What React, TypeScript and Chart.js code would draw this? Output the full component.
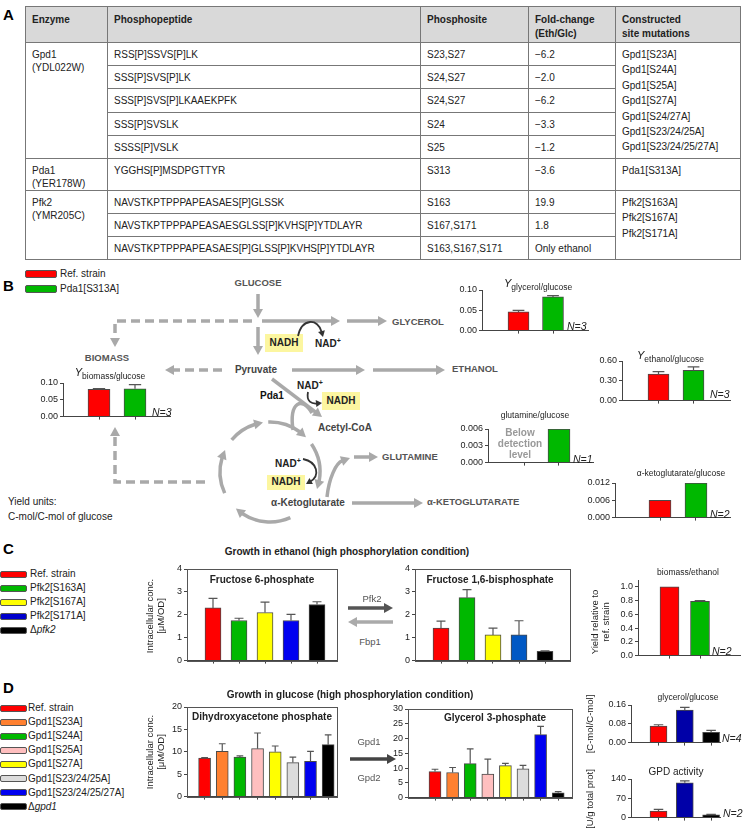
import React, { useEffect, useRef } from 'react';
import { Chart, registerables } from 'chart.js';
Chart.register(...registerables);

const FONT = '"Liberation Sans", Arial, Helvetica, sans-serif';

// ---------- Table data (panel A) ----------
const tableHeader = [['Enzyme'], ['Phosphopeptide'], ['Phosphosite'], ['Fold-change', '(Eth/Glc)'], ['Constructed', 'site mutations']];
const gpd1Name = ['Gpd1', '(YDL022W)'];
const gpd1Peptides = ['RSS[P]SSVS[P]LK', 'SSS[P]SVS[P]LK', 'SSS[P]SVS[P]LKAAEKPFK', 'SSS[P]SVSLK', 'SSSS[P]VSLK'];
const gpd1Sites = ['S23,S27', 'S24,S27', 'S24,S27', 'S24', 'S25'];
const gpd1Fold = ['−6.2', '−2.0', '−6.2', '−3.3', '−1.2'];
const gpd1Mutations = ['Gpd1[S23A]', 'Gpd1[S24A]', 'Gpd1[S25A]', 'Gpd1[S27A]', 'Gpd1[S24/27A]', 'Gpd1[S23/24/25A]', 'Gpd1[S23/24/25/27A]'];
const pda1Name = ['Pda1', '(YER178W)'];
const pda1Peptides = ['YGGHS[P]MSDPGTTYR'];
const pda1Sites = ['S313'];
const pda1Fold = ['−3.6'];
const pda1Mutations = ['Pda1[S313A]'];
const pfk2Name = ['Pfk2', '(YMR205C)'];
const pfk2Peptides = ['NAVSTKPTPPPAPEASAES[P]GLSSK', 'NAVSTKPTPPPAPEASAESGLSS[P]KVHS[P]YTDLAYR', 'NAVSTKPTPPPAPEASAES[P]GLSS[P]KVHS[P]YTDLAYR'];
const pfk2Sites = ['S163', 'S167,S171', 'S163,S167,S171'];
const pfk2Fold = ['19.9', '1.8', 'Only ethanol'];
const pfk2Mutations = ['Pfk2[S163A]', 'Pfk2[S167A]', 'Pfk2[S171A]'];

// ---------- Panel B data ----------
const bStrains = ['Ref. strain', 'Pda1[S313A]'];
const bColors = ['#ff0000', '#00b800'];
const biomassYield = [0.081, 0.083];
const biomassErr = [0.002, 0.012];
const glycerolYield = [0.046, 0.083];
const glycerolErr = [0.004, 0.003];
const ethanolYield = [0.40, 0.46];
const ethanolErr = [0.04, 0.05];
const glutamineYield = [null, 0.006];
const akgYield = [0.006, 0.012];
const ticksBiomass = [0, 0.05, 0.10];
const ticksGlycerol = [0, 0.05, 0.10];
const ticksEthanol = [0, 0.30, 0.60];
const ticksGlutamine = [0, 0.003, 0.006];
const ticksAkg = [0, 0.006, 0.012];

// ---------- Panel C data ----------
const cStrains = ['Ref. strain', 'Pfk2[S163A]', 'Pfk2[S167A]', 'Pfk2[S171A]', 'Δpfk2'];
const cLegendColors = ['#ff0000', '#00b800', '#ffff00', '#0000cc', '#000000'];
const cColors = ['#ff0000', '#00b800', '#ffff00', '#0000f0', '#000000'];
const cColorsF16 = ['#ff0000', '#00b800', '#ffff00', '#0058c4', '#000000'];
const f6p = [2.3, 1.75, 2.1, 1.75, 2.45];
const f6pErr = [0.42, 0.1, 0.45, 0.27, 0.12];
const f16bp = [1.42, 2.75, 1.12, 1.12, 0.4];
const f16bpErr = [0.3, 0.35, 0.3, 0.62, 0.03];
const biomassEthanol = [1.0, 0.79];
const biomassEthanolErr = [0, 0.012];
const ticksConc4 = [0, 1, 2, 3, 4];
const ticksRel = [0, 0.2, 0.4, 0.6, 0.8, 1.0];

// ---------- Panel D data ----------
const dStrains = ['Ref. strain', 'Gpd1[S23A]', 'Gpd1[S24A]', 'Gpd1[S25A]', 'Gpd1[S27A]', 'Gpd1[S23/24/25A]', 'Gpd1[S23/24/25/27A]', 'Δgpd1'];
const dColors = ['#ff0000', '#ff8030', '#00b800', '#ffbfbf', '#ffff00', '#dcdcdc', '#0000f0', '#000000'];
const dhap = [8.6, 10.1, 8.8, 10.7, 10.0, 7.6, 7.9, 11.6];
const dhapErr = [0.1, 1.7, 0.3, 3.5, 1.3, 1.2, 2.2, 2.2];
const g3p = [8.8, 8.5, 11.5, 8.0, 10.8, 9.7, 21.3, 1.6];
const g3pErr = [0.8, 1.7, 5.0, 5.0, 0.8, 1.2, 2.8, 0.4];
const dRightColors = ['#ff0000', '#0000a8', '#000000'];
const glycerolGlucose = [0.07, 0.138, 0.044];
const glycerolGlucoseErr = [0.006, 0.012, 0.008];
const gpdActivity = [24, 126, 10];
const gpdActivityErr = [6, 7, 2];
const ticksDhap = [0, 5, 10, 15, 20];
const ticksG3p = [0, 5, 10, 15, 20, 25, 30];
const ticksGlyGlu = [0, 0.08, 0.16];
const ticksGpd = [0, 70, 140];

// ---------- chart component ----------
type Spec = {
  left: number; top: number; width: number; height: number;
  yMax: number; yTicks: number[]; dec: number;
  first: number; step: number; barW: number;
  values: (number | null)[]; errs?: number[]; colors: string[]; box?: boolean;
};
const YW = 32, PT = 8, PR = 3, XH = 6;

function BarChart({ s }: { s: Spec }) {
  const ref = useRef<HTMLCanvasElement>(null);
  useEffect(() => {
    const xs = s.values.map((_, i) => i + 1);
    const xMin = 1 - s.first / s.step;
    const xMax = xMin + s.width / s.step;
    const errPlugin = {
      id: 'errbars',
      afterDatasetsDraw(chart: any) {
        if (!s.errs) return;
        const meta = chart.getDatasetMeta(0);
        const ys = chart.scales.y;
        const ctx = chart.ctx;
        ctx.save();
        ctx.strokeStyle = '#555';
        ctx.lineWidth = 1.2;
        meta.data.forEach((el: any, i: number) => {
          const v = s.values[i];
          const e = s.errs![i];
          if (v == null || !e) return;
          const yTop = ys.getPixelForValue(v + e);
          const cw = Math.max(3, s.barW * 0.28);
          ctx.beginPath();
          ctx.moveTo(el.x, el.y);
          ctx.lineTo(el.x, yTop);
          ctx.moveTo(el.x - cw, yTop);
          ctx.lineTo(el.x + cw, yTop);
          ctx.stroke();
        });
        ctx.restore();
      },
    };
    const framePlugin = {
      id: 'frame',
      afterDraw(chart: any) {
        if (!s.box) return;
        const a = chart.chartArea;
        const ctx = chart.ctx;
        ctx.save();
        ctx.strokeStyle = '#555';
        ctx.lineWidth = 1;
        ctx.strokeRect(Math.round(a.left) + 0.5, Math.round(a.top) + 0.5, Math.round(a.right - a.left), Math.round(a.bottom - a.top));
        ctx.restore();
      },
    };
    const chart = new Chart(ref.current!, {
      type: 'bar',
      data: {
        datasets: [{
          data: xs.map((x, i) => ({ x, y: s.values[i] })) as any,
          backgroundColor: s.colors,
          borderColor: '#4a4a4a',
          borderWidth: 1,
          barThickness: s.barW,
        }],
      },
      options: {
        animation: false,
        responsive: false,
        maintainAspectRatio: false,
        layout: { padding: { top: PT, right: PR, left: 0, bottom: 0 } },
        plugins: { legend: { display: false }, tooltip: { enabled: false } },
        scales: {
          x: {
            type: 'linear', min: xMin, max: xMax, offset: false,
            afterBuildTicks: (sc: any) => { sc.ticks = xs.map((v) => ({ value: v })); },
            afterFit: (sc: any) => { sc.height = XH; },
            ticks: { display: false },
            grid: { drawOnChartArea: false, drawTicks: true, tickLength: 3, color: '#444', offset: false },
            border: { color: '#444', width: 1 },
          },
          y: {
            min: 0, max: s.yMax,
            afterBuildTicks: (sc: any) => { sc.ticks = s.yTicks.map((v) => ({ value: v })); },
            afterFit: (sc: any) => { sc.width = YW; },
            ticks: {
              autoSkip: false, padding: 2, color: '#222',
              font: { family: FONT, size: 9 },
              callback: (v: any) => Number(v).toFixed(s.dec),
            },
            grid: { drawOnChartArea: false, drawTicks: true, tickLength: 3, color: '#444' },
            border: { color: '#444', width: 1 },
          },
        },
      } as any,
      plugins: [errPlugin, framePlugin],
    });
    return () => chart.destroy();
  }, []);
  const w = YW + s.width + PR;
  const h = PT + s.height + XH;
  return (
    <canvas ref={ref} width={w} height={h}
      style={{ position: 'absolute', left: s.left - YW, top: s.top - PT, width: w, height: h }} />
  );
}

const specs: Record<string, Spec> = {
  biomass: { left: 63, top: 383, width: 107, height: 35, yMax: 0.1, yTicks: ticksBiomass, dec: 2, first: 36, step: 36, barW: 22, values: biomassYield, errs: biomassErr, colors: bColors },
  glycerol: { left: 482, top: 290, width: 106, height: 42, yMax: 0.1, yTicks: ticksGlycerol, dec: 2, first: 36.5, step: 34.5, barW: 21, values: glycerolYield, errs: glycerolErr, colors: bColors },
  ethanol: { left: 622, top: 361, width: 108, height: 41, yMax: 0.6, yTicks: ticksEthanol, dec: 2, first: 36.5, step: 35, barW: 21, values: ethanolYield, errs: ethanolErr, colors: bColors },
  glutamine: { left: 488, top: 429, width: 105, height: 35, yMax: 0.006, yTicks: ticksGlutamine, dec: 3, first: 36, step: 35, barW: 22, values: glutamineYield, colors: bColors },
  akg: { left: 615, top: 483, width: 115, height: 36, yMax: 0.012, yTicks: ticksAkg, dec: 3, first: 45, step: 36, barW: 22, values: akgYield, colors: bColors },
  f6p: { left: 187, top: 569, width: 150, height: 93, yMax: 4, yTicks: ticksConc4, dec: 0, first: 26, step: 26, barW: 16, values: f6p, errs: f6pErr, colors: cColors, box: true },
  f16bp: { left: 415, top: 569, width: 155, height: 93, yMax: 4, yTicks: ticksConc4, dec: 0, first: 26, step: 26, barW: 16, values: f16bp, errs: f16bpErr, colors: cColorsF16, box: true },
  bioEth: { left: 638, top: 580, width: 102, height: 77, yMax: 1.1, yTicks: ticksRel, dec: 1, first: 31.5, step: 30.5, barW: 19, values: biomassEthanol, errs: biomassEthanolErr, colors: bColors },
  dhap: { left: 187, top: 707, width: 150, height: 91, yMax: 20, yTicks: ticksDhap, dec: 0, first: 17.6, step: 17.65, barW: 12, values: dhap, errs: dhapErr, colors: dColors, box: true },
  g3p: { left: 408, top: 709, width: 164, height: 90, yMax: 30, yTicks: ticksG3p, dec: 0, first: 27, step: 17.6, barW: 12, values: g3p, errs: g3pErr, colors: dColors, box: true },
  glyGlu: { left: 631, top: 705, width: 89, height: 39, yMax: 0.16, yTicks: ticksGlyGlu, dec: 2, first: 27.5, step: 26.3, barW: 17, values: glycerolGlucose, errs: glycerolGlucoseErr, colors: dRightColors },
  gpd: { left: 631, top: 779, width: 89, height: 40, yMax: 140, yTicks: ticksGpd, dec: 0, first: 27.5, step: 26.3, barW: 17, values: gpdActivity, errs: gpdActivityErr, colors: dRightColors },
};

// ---------- text helpers ----------
function Txt({ x, y, c, a = 'l', s = 10, b = false, i = false, col = '#222', rot = false }: any) {
  const tx = a === 'c' ? '-50%' : a === 'r' ? '-100%' : '0';
  return (
    <div style={{
      position: 'absolute', left: x, top: y,
      transform: rot ? 'translate(-50%,-50%) rotate(-90deg)' : `translate(${tx},-50%)`,
      fontSize: s, fontWeight: b ? 'bold' : 'normal', fontStyle: i ? 'italic' : 'normal',
      color: col, whiteSpace: 'nowrap', lineHeight: 1,
    }}>{c}</div>
  );
}
const NAD = <span>NAD<span style={{ fontSize: '0.7em', verticalAlign: 'super' }}>+</span></span>;
const Ysub = (sub: string) => (
  <span><span style={{ fontStyle: 'italic', fontSize: 11 }}>Y</span><span style={{ fontSize: 8.5, verticalAlign: 'sub' }}>{sub}</span></span>
);
const strainLabel = (n: string) =>
  n.startsWith('Δ') ? <span>Δ<i>{n.slice(1)}</i></span> : <span>{n}</span>;

function Legend({ x, y, dy, names, colors, sw = 25, sh = 5, tx }: any) {
  return (
    <>
      {names.map((n: string, k: number) => (
        <React.Fragment key={k}>
          <div style={{ position: 'absolute', left: x, top: y + k * dy - sh / 2 - 1, width: sw, height: sh, background: colors[k], border: '1px solid #555', borderRadius: 2 }} />
          <Txt x={tx} y={y + k * dy} c={strainLabel(n)} s={10} />
        </React.Fragment>
      ))}
    </>
  );
}

// ---------- svg helpers ----------
const GRAY = '#a9a9a9';
function headPts(tx: number, ty: number, ang: number, len: number, hw: number) {
  const bx = tx - len * Math.cos(ang), by = ty - len * Math.sin(ang);
  const px = -Math.sin(ang) * hw, py = Math.cos(ang) * hw;
  return `${tx},${ty} ${bx + px},${by + py} ${bx - px},${by - py}`;
}
function Arrow({ x1, y1, x2, y2, color = GRAY, w = 3.5, len = 9, hw = 5 }: any) {
  const ang = Math.atan2(y2 - y1, x2 - x1);
  const bx = x2 - (len - 1) * Math.cos(ang), by = y2 - (len - 1) * Math.sin(ang);
  return (
    <g>
      <line x1={x1} y1={y1} x2={bx} y2={by} stroke={color} strokeWidth={w} />
      <polygon points={headPts(x2, y2, ang, len, hw)} fill={color} />
    </g>
  );
}
function Head({ x, y, deg, color = GRAY, len = 9, hw = 5 }: any) {
  return <polygon points={headPts(x, y, (deg * Math.PI) / 180, len, hw)} fill={color} />;
}
function Curve({ p, color = GRAY, w = 3.5, len = 9, hw = 5, head = true }: any) {
  const [p0, p1, p2, p3] = p;
  const ang = Math.atan2(p3[1] - p2[1], p3[0] - p2[0]);
  const e = head ? [p3[0] - (len - 1) * Math.cos(ang), p3[1] - (len - 1) * Math.sin(ang)] : p3;
  return (
    <g>
      <path d={`M ${p0[0]} ${p0[1]} C ${p1[0]} ${p1[1]}, ${p2[0]} ${p2[1]}, ${e[0]} ${e[1]}`} fill="none" stroke={color} strokeWidth={w} />
      {head && <polygon points={headPts(p3[0], p3[1], ang, len, hw)} fill={color} />}
    </g>
  );
}
function ArcArrow({ cx, cy, r, a1, a2 }: any) {
  const len = 9;
  const rad = (d: number) => (d * Math.PI) / 180;
  const aEnd = a2 - ((len - 1) / r) * (180 / Math.PI);
  const sx = cx + r * Math.cos(rad(a1)), sy = cy + r * Math.sin(rad(a1));
  const ex = cx + r * Math.cos(rad(aEnd)), ey = cy + r * Math.sin(rad(aEnd));
  const tx = cx + r * Math.cos(rad(a2)), ty = cy + r * Math.sin(rad(a2));
  const large = aEnd - a1 > 180 ? 1 : 0;
  const hAng = Math.atan2(ty - ey, tx - ex);
  return (
    <g>
      <path d={`M ${sx} ${sy} A ${r} ${r} 0 ${large} 1 ${ex} ${ey}`} fill="none" stroke={GRAY} strokeWidth={3.5} />
      <polygon points={headPts(tx, ty, hAng, len, 5)} fill={GRAY} />
    </g>
  );
}

function Pathway() {
  const DASH = '9 5';
  const BLK = '#333';
  return (
    <svg width={745} height={830} style={{ position: 'absolute', left: 0, top: 0 }}>
      <Arrow x1={258} y1={294} x2={258} y2={318} />
      <Arrow x1={258} y1={327} x2={258} y2={355} />
      <Arrow x1={262} y1={321} x2={340} y2={321} />
      <Arrow x1={347} y1={321} x2={387} y2={321} />
      <path d="M 252 321 H 115 V 339" fill="none" stroke={GRAY} strokeWidth={3.5} strokeDasharray={DASH} />
      <Head x={115} y={347} deg={90} />
      <Arrow x1={292} y1={370} x2={365} y2={370} />
      <Arrow x1={373} y1={370} x2={445} y2={370} />
      <path d="M 222 370 H 173" fill="none" stroke={GRAY} strokeWidth={3.5} strokeDasharray={DASH} />
      <Head x={165} y={370} deg={180} />
      <Arrow x1={272} y1={379} x2={322} y2={417} />
      <Curve p={[[312, 413], [302, 396], [289, 402], [293, 430]]} head={false} />
      <ArcArrow cx={270} cy={472} r={50} a1={155} a2={206} />
      <ArcArrow cx={270} cy={472} r={50} a1={220} a2={262} />
      <ArcArrow cx={270} cy={472} r={50} a1={268} a2={316} />
      <ArcArrow cx={270} cy={472} r={50} a1={326} a2={380} />
      <ArcArrow cx={270} cy={472} r={50} a1={66} a2={133} />
      <Curve p={[[327, 497], [329, 478], [336, 463], [350, 458]]} />
      <Arrow x1={354} y1={457} x2={378} y2={457} />
      <Arrow x1={352} y1={503} x2={423} y2={503} />
      <path d="M 205 482 H 115 V 435" fill="none" stroke={GRAY} strokeWidth={3.5} strokeDasharray={DASH} />
      <Head x={115} y={427} deg={-90} />
      <rect x={265} y={334} width={38} height={18} fill="#fcf6a0" />
      <rect x={322} y={392} width={38} height={18} fill="#fcf6a0" />
      <rect x={267} y={475} width={38} height={15} fill="#fcf6a0" />
      <Curve p={[[298, 336], [302, 318], [318, 318], [323, 337]]} color={BLK} w={1.8} len={6} hw={3.5} />
      <Curve p={[[308, 392], [306, 402], [312, 404], [322, 403]]} color={BLK} w={1.8} len={6} hw={3.5} />
      <Curve p={[[303, 459], [318, 462], [320, 476], [306, 484]]} color={BLK} w={1.8} len={6} hw={3.5} />
      <Arrow x1={348} y1={608} x2={393} y2={608} color="#555" />
      <Arrow x1={393} y1={622} x2={348} y2={622} color="#aaa" />
      <Arrow x1={350} y1={759} x2={396} y2={759} color="#444" />
    </svg>
  );
}

// ---------- table ----------
function DataTable() {
  const cell: React.CSSProperties = { border: '1px solid #777', padding: '5px 6px 0 6px', verticalAlign: 'top', overflow: 'hidden', whiteSpace: 'nowrap' };
  const sec: React.CSSProperties = { borderTop: '1.5px solid #333' };
  const section = (name: string[], peps: string[], sites: string[], folds: string[], muts: string[], rowH: number) =>
    peps.map((p, i) => (
      <tr key={p + i} style={{ height: rowH }}>
        {i === 0 && <td rowSpan={peps.length} style={{ ...cell, ...sec }}>{name[0]}<br />{name[1]}</td>}
        <td style={{ ...cell, ...(i === 0 ? sec : {}) }}>{p}</td>
        <td style={{ ...cell, ...(i === 0 ? sec : {}) }}>{sites[i]}</td>
        <td style={{ ...cell, ...(i === 0 ? sec : {}) }}>{folds[i]}</td>
        {i === 0 && <td rowSpan={peps.length} style={{ ...cell, ...sec, lineHeight: '15.4px', paddingTop: 4 }}>{muts.map((m) => <div key={m}>{m}</div>)}</td>}
      </tr>
    ));
  return (
    <table style={{ position: 'absolute', left: 25, top: 6, width: 715, borderCollapse: 'collapse', tableLayout: 'fixed', fontSize: 10, color: '#222', lineHeight: '13px', border: '1.5px solid #333' }}>
      <colgroup>
        <col style={{ width: 82 }} /><col style={{ width: 313 }} /><col style={{ width: 108 }} /><col style={{ width: 87 }} /><col style={{ width: 125 }} />
      </colgroup>
      <tbody>
        <tr style={{ height: 36, background: '#d9d9d9' }}>
          {tableHeader.map((h, k) => (
            <td key={k} style={{ ...cell, fontWeight: 'bold', paddingTop: 6, lineHeight: '14px' }}>{h.map((l, j) => <div key={j}>{l}</div>)}</td>
          ))}
        </tr>
        {section(gpd1Name, gpd1Peptides, gpd1Sites, gpd1Fold, gpd1Mutations, 23.2)}
        {section(pda1Name, pda1Peptides, pda1Sites, pda1Fold, pda1Mutations, 30)}
        {section(pfk2Name, pfk2Peptides, pfk2Sites, pfk2Fold, pfk2Mutations, 23)}
      </tbody>
    </table>
  );
}

export default function App() {
  const PG = '#555';
  return (
    <div style={{ position: 'absolute', left: 0, top: 0, width: 745, height: 830, background: '#fff', fontFamily: FONT, overflow: 'hidden' }}>
      <DataTable />
      <Pathway />
      {Object.keys(specs).map((k) => <BarChart key={k} s={specs[k]} />)}

      <Txt x={3} y={14} c="A" s={15} b col="#000" />
      <Txt x={3} y={285} c="B" s={15} b col="#000" />
      <Txt x={3} y={548} c="C" s={15} b col="#000" />
      <Txt x={3} y={687} c="D" s={15} b col="#000" />

      <Legend x={25} y={274} dy={15} names={bStrains} colors={bColors} sw={30} sh={6} tx={60} />

      <Txt x={258} y={283} c="GLUCOSE" a="c" s={9.5} b col={PG} />
      <Txt x={392} y={322} c="GLYCEROL" s={9.5} b col={PG} />
      <Txt x={452} y={369} c="ETHANOL" s={9.5} b col={PG} />
      <Txt x={382} y={457} c="GLUTAMINE" s={9.5} b col={PG} />
      <Txt x={427} y={502} c="α-KETOGLUTARATE" s={9.5} b col={PG} />
      <Txt x={107} y={358} c="BIOMASS" a="c" s={9.5} b col={PG} />
      <Txt x={256} y={370} c="Pyruvate" a="c" s={10} b col="#444" />
      <Txt x={318} y={428} c="Acetyl-CoA" s={10} b col="#444" />
      <Txt x={271} y={503} c="α-Ketoglutarate" s={10} b col="#444" />
      <Txt x={260} y={396} c="Pda1" s={10} b col="#111" />
      <Txt x={284} y={343} c="NADH" a="c" s={10} b col="#222" />
      <Txt x={341} y={401} c="NADH" a="c" s={10} b col="#222" />
      <Txt x={286} y={482} c="NADH" a="c" s={10} b col="#222" />
      <Txt x={315} y={343} c={NAD} s={10} b col="#222" />
      <Txt x={297} y={385} c={NAD} s={10} b col="#222" />
      <Txt x={275} y={463} c={NAD} s={10} b col="#222" />
      <Txt x={8} y={502} c="Yield units:" s={10} />
      <Txt x={8} y={517} c="C-mol/C-mol of glucose" s={10} />

      <Txt x={110} y={374} c={Ysub('biomass/glucose')} a="c" />
      <Txt x={504} y={285} c={Ysub('glycerol/glucose')} />
      <Txt x={637} y={357} c={Ysub('ethanol/glucose')} />
      <Txt x={535} y={415} c="glutamine/glucose" a="c" s={8.5} />
      <Txt x={681} y={473} c="α-ketoglutarate/glucose" a="c" s={8.5} />
      <Txt x={520} y={433} c="Below" a="c" s={10} b col="#999" />
      <Txt x={520} y={444} c="detection" a="c" s={10} b col="#999" />
      <Txt x={520} y={455} c="level" a="c" s={10} b col="#999" />
      <Txt x={152} y={412} c="N=3" s={10.5} i />
      <Txt x={567} y={326} c="N=3" s={10.5} i />
      <Txt x={710} y={394} c="N=3" s={10.5} i />
      <Txt x={573} y={459} c="N=1" s={10.5} i />
      <Txt x={710} y={514} c="N=2" s={10.5} i />

      <Legend x={0} y={574} dy={14} names={cStrains} colors={cLegendColors} tx={30} />
      <Txt x={347} y={552} c="Growth in ethanol (high phosphorylation condition)" a="c" s={10} b />
      <Txt x={262} y={580} c="Fructose 6-phosphate" a="c" s={10} b />
      <Txt x={490} y={580} c="Fructose 1,6-bisphosphate" a="c" s={10} b />
      <Txt x={150} y={616} c="Intracellular conc." s={9.5} rot />
      <Txt x={161} y={616} c="[μM/OD]" s={9.5} rot />
      <Txt x={372} y={599} c="Pfk2" a="c" s={9.5} col="#555" />
      <Txt x={370} y={642} c="Fbp1" a="c" s={9.5} col="#555" />
      <Txt x={688} y={572} c="biomass/ethanol" a="c" s={8.5} />
      <Txt x={595} y={622} c="Yield relative to" s={9.5} rot />
      <Txt x={606} y={622} c="ref. strain" s={9.5} rot />
      <Txt x={712} y={651} c="N=2" s={10.5} i />

      <Legend x={0} y={708} dy={14.1} names={dStrains} colors={dColors} tx={28} />
      <Txt x={350} y={695} c="Growth in glucose (high phosphorylation condition)" a="c" s={10} b />
      <Txt x={262} y={717} c="Dihydroxyacetone phosphate" a="c" s={10} b />
      <Txt x={495} y={718} c="Glycerol 3-phosphate" a="c" s={10} b />
      <Txt x={150} y={752} c="Intracellular conc." s={9.5} rot />
      <Txt x={161} y={752} c="[μM/OD]" s={9.5} rot />
      <Txt x={369} y={742} c="Gpd1" a="c" s={9.5} col="#555" />
      <Txt x={369} y={778} c="Gpd2" a="c" s={9.5} col="#555" />
      <Txt x={688} y={697} c="glycerol/glucose" a="c" s={8.5} />
      <Txt x={676} y={772} c="GPD activity" a="c" s={10} />
      <Txt x={590} y={724} c="[C-mol/C-mol]" s={9.5} rot />
      <Txt x={590} y={799} c="[U/g total prot]" s={9.5} rot />
      <Txt x={722} y={738} c="N=4" s={10.5} i />
      <Txt x={723} y={813} c="N=2" s={10.5} i />
    </div>
  );
}
